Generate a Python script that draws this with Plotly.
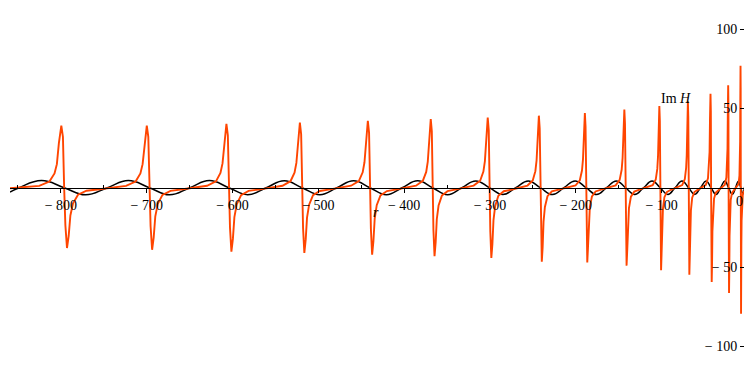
import plotly.graph_objects as go

# Positions r where Im H swings through zero, with the extreme values on each side
spike_r = [-796.2, -696.8, -604.2, -518.9, -439.8, -366.8, -300.5, -241.3,
           -188.0, -142.1, -101.6, -68.5, -42.3, -21.9, -7.7]
spike_peak = [39.1, 39.1, 40.3, 41.1, 42.2, 43.3, 44.2, 45.4,
              47.1, 49.2, 51.5, 54.4, 59.2, 64.5, 76.9]
spike_trough = [-38.0, -39.1, -40.3, -41.1, -42.2, -43.2, -44.3, -46.6,
                -47.1, -49.1, -52.0, -54.8, -59.4, -66.4, -79.4]
spike_halfwidth = [3.3, 3.1, 2.9, 2.6, 2.5, 2.2, 2.1, 1.7,
                   1.4, 1.3, 1.0, 0.85, 0.7, 0.5, 0.3]

# Shape of one resonance: offsets in half-widths, heights as fractions of the extreme
rise_dx = [-8.8, -5.2, -3.4, -2.57, -1.86, -1.0, -0.43]
rise_frac = [0.03, 0.10, 0.23, 0.38, 0.72, 1.0, 0.82]
fall_dx = [0.0, 0.43, 1.0, 1.6, 2.2, 3.14, 4.9, 7.9, 12.5]
fall_frac = [0.0, 0.62, 1.0, 0.8, 0.46, 0.26, 0.115, 0.05, 0.025]

r_start, h_start = -859.3, -0.3

# Slowly oscillating companion curve: zero crossings and extremes
wave_r = [-859.3, -848.6, -822.5, -796.2, -771.2, -745.8, -721.4, -696.8, -673.4,
          -649.7, -627.0, -604.2, -582.3, -560.7, -539.6, -518.9, -498.2, -478.3,
          -458.8, -439.8, -420.7, -402.4, -384.2, -366.8, -349.3, -332.7, -316.5,
          -300.5, -284.9, -269.9, -255.4, -241.3, -227.1, -213.7, -200.8, -188.0,
          -175.8, -164.1, -152.8, -142.1, -131.3, -121.0, -111.1, -101.6, -92.7,
          -84.3, -76.2, -68.5, -61.5, -54.6, -48.2, -42.3, -36.5, -31.2, -26.3,
          -21.9, -17.6, -13.8, -10.6, -7.7, -5.3, -3.4, -1.9]
wave_h = [-2.7, 0, 4.5, 0, -4.5, 0, 4.5, 0, -4.5,
          0, 4.5, 0, -4.4, 0, 4.4, 0, -4.4, 0,
          4.4, 0, -4.4, 0, 4.4, 0, -4.4, 0, 4.3,
          0, -4.3, 0, 4.3, 0, -4.3, 0, 4.3, 0,
          -4.3, 0, 4.3, 0, -4.3, 0, 4.2, 0, -4.2,
          0, 4.2, 0, -4.2, 0, 4.2, 0, -4.2, 0, 4.2,
          0, -4.1, 0, 4.1, 0, -4.0, 0, 4.0]
assert len(wave_r) == len(wave_h)

x_ticks = [-800, -700, -600, -500, -400, -300, -200, -100]
x_ticktext = ["\u2212 800", "\u2212 700", "\u2212 600", "\u2212 500",
              "\u2212 400", "\u2212 300", "\u2212 200", "\u2212 100"]
y_ticks = [-100, -50, 50, 100]
y_ticktext = ["\u2212 100", "\u2212 50", "50", "100"]

# Build the resonance curve
im_r = [r_start]
im_h = [h_start]
for r0, hw, pk, tr in zip(spike_r, spike_halfwidth, spike_peak, spike_trough):
    for dx, f in zip(rise_dx, rise_frac):
        im_r.append(r0 + dx * hw)
        im_h.append(f * pk)
    for dx, f in zip(fall_dx, fall_frac):
        im_r.append(r0 + dx * hw)
        im_h.append(f * tr)

serif = "Liberation Serif"
tick_font = dict(family=serif, size=14, color="black")

fig = go.Figure()
fig.add_trace(go.Scatter(x=wave_r, y=wave_h, mode="lines",
                         line=dict(color="black", width=1.5, shape="spline", smoothing=1.3),
                         hoverinfo="skip"))
fig.add_trace(go.Scatter(x=im_r, y=im_h, mode="lines",
                         line=dict(color="#ff4500", width=1.9),
                         hoverinfo="skip"))

fig.update_layout(
    width=744, height=371,
    margin=dict(l=0, r=0, t=0, b=0),
    paper_bgcolor="white", plot_bgcolor="white",
    showlegend=False,
    font=dict(family=serif, size=14, color="black"),
    xaxis=dict(
        domain=[10 / 744, 1], range=[-859.3, -3.96],
        anchor="free", position=0.494,
        showgrid=False, zeroline=False,
        showline=True, linecolor="black", linewidth=1,
        tickmode="array", tickvals=x_ticks, ticktext=x_ticktext,
        ticks="outside", ticklen=4, tickcolor="black", tickwidth=1,
        minor=dict(tickmode="linear", tick0=-50, dtick=100, ticks="inside",
                   ticklen=3, tickcolor="black", tickwidth=1),
        tickfont=tick_font,
    ),
    yaxis=dict(
        domain=[0, 1], range=[-115.5, 118.3],
        anchor="free", position=1, side="left",
        showgrid=False, zeroline=False, showline=False,
        tickmode="array", tickvals=y_ticks, ticktext=y_ticktext,
        ticks="outside", ticklen=4, tickcolor="black", tickwidth=1,
        tickfont=tick_font,
    ),
    annotations=[
        dict(x=-432.8, y=-15.9, xref="x", yref="y", text="<i>r</i>",
             showarrow=False, font=dict(family=serif, size=14, color="black")),
        dict(x=-83.2, y=56.5, xref="x", yref="y", text="Im <i>H</i>",
             showarrow=False, font=dict(family=serif, size=14, color="black")),
        dict(x=-9.0, y=-8.5, xref="x", yref="y", text="0",
             showarrow=False, font=tick_font),
    ],
)

fig.write_html("out.html")
